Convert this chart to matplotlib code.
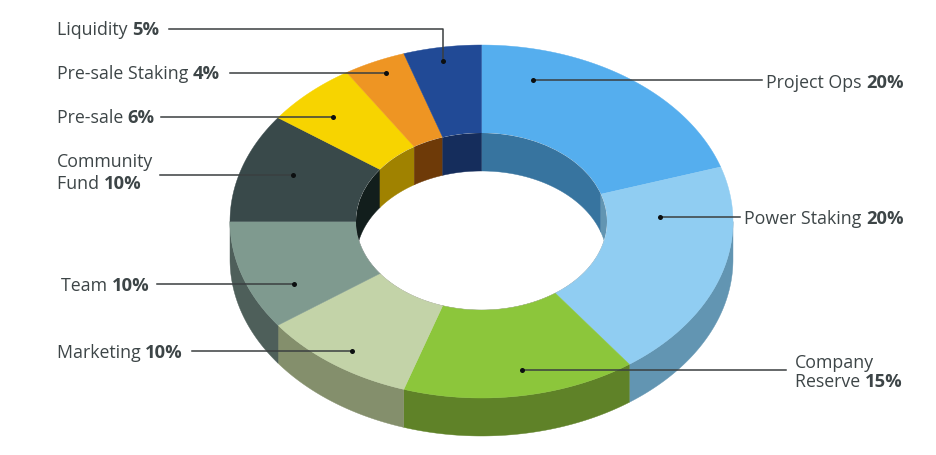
import numpy as np
import matplotlib
matplotlib.use('Agg')
import matplotlib.pyplot as plt
from matplotlib.patches import Polygon, Ellipse

# share of each slice, clockwise from the top
names = ['Project Ops', 'Power Staking', 'Company\nReserve', 'Marketing', 'Team',
         'Community\nFund', 'Pre-sale', 'Pre-sale Staking', 'Liquidity']
shares = [20, 20, 15, 10, 10, 10, 6, 4, 5]

top_colors = ['#55aeee', '#90cdf2', '#8cc63b', '#c3d3a8', '#7f9a8f',
              '#39494a', '#f7d400', '#ee9523', '#214a96']
side_colors = ['#37749f', '#6295b2', '#5f8228', '#848f6c', '#4e5f5a',
               '#121e1c', '#a08200', '#6e3a08', '#152d5c']

# ring geometry in pixels
cx, cy = 481.5, 221.5
rx_out, ry_out = 251.5, 176.5
rx_in, ry_in = 125.5, 88.5
depth = 38

# label layout: text x, y of the last line, line start x, dot x, dot y
label_x = [766, 744, 795, 57, 61, 57, 57, 57, 57]
label_y = [83, 219, 382, 353, 286, 184, 118, 74, 30]
line_x = [762, 740, 786, 192, 157, 160, 161, 230, 169]
dot_x = [533, 660, 522, 352, 294, 293, 333, 386, 443]
dot_y = [80, 217, 370, 351, 284, 175, 117, 73, 61]
line_gap = [0, 0, 19, 0, 0, 22, 0, 0, 0]

plt.rcParams['font.family'] = ['Open Sans', 'DejaVu Sans']
text_color = '#3d4547'
font_size = 12.75
bold_size = 13.2


def arc(a0, a1, rx, ry, shift=0):
    t = np.linspace(a0, a1, 80)
    return np.column_stack([cx + rx * np.sin(t), cy - ry * np.cos(t) + shift])


fig = plt.figure(figsize=(9.36, 4.55), dpi=100)
ax = fig.add_axes([0, 0, 1, 1])
ax.set_xlim(0, 936)
ax.set_ylim(455, 0)
ax.axis('off')

edges = np.cumsum([0] + shares) / sum(shares) * 2 * np.pi

# outer wall, front half only
for i in range(len(shares)):
    a0, a1 = max(edges[i], np.pi / 2), min(edges[i + 1], 3 * np.pi / 2)
    if a1 <= a0:
        continue
    pts = np.vstack([arc(a0, a1, rx_out, ry_out), arc(a1, a0, rx_out, ry_out, depth)])
    ax.add_patch(Polygon(pts, fc=side_colors[i], ec=side_colors[i], lw=0.3, zorder=1))

# top face
for i in range(len(shares)):
    pts = np.vstack([arc(edges[i], edges[i + 1], rx_out, ry_out),
                     arc(edges[i + 1], edges[i], rx_in, ry_in)])
    ax.add_patch(Polygon(pts, fc=top_colors[i], ec=top_colors[i], lw=0.3, zorder=2))

# inner wall seen through the hole
hole = Ellipse((cx, cy), 2 * rx_in, 2 * ry_in, fc='white', ec='none', zorder=3)
ax.add_patch(hole)
for i in range(len(shares)):
    pts = np.vstack([arc(edges[i], edges[i + 1], rx_in, ry_in),
                     arc(edges[i + 1], edges[i], rx_in, ry_in, depth)])
    wall = Polygon(pts, fc=side_colors[i], ec=side_colors[i], lw=0.3, zorder=4)
    ax.add_patch(wall)
    wall.set_clip_path(hole)

# leader lines and labels
renderer = fig.canvas.get_renderer()
for i in range(len(shares)):
    pct = f'{shares[i]}%'
    lines = names[i].split('\n')
    y = label_y[i]
    if len(lines) == 2:
        ax.text(label_x[i], y - line_gap[i], lines[0], fontsize=font_size,
                color=text_color, va='center', ha='left', zorder=6)
    t = ax.text(label_x[i], y, lines[-1] + ' ', fontsize=font_size, color=text_color,
                va='center', ha='left', zorder=6)
    x1 = t.get_window_extent(renderer).x1
    ax.text(x1, y, pct, fontsize=bold_size, color=text_color, fontweight='bold',
            va='center', ha='left', zorder=6)

    if names[i] == 'Liquidity':
        lx = [line_x[i], dot_x[i], dot_x[i]]
        ly = [29, 29, dot_y[i]]
    else:
        lx = [line_x[i], dot_x[i]]
        ly = [dot_y[i], dot_y[i]]
    ax.plot(lx, ly, color='#3a3f40', lw=1.1, zorder=5)
    ax.plot(dot_x[i], dot_y[i], 'o', color='#0c0f10', ms=3.6, mew=0, zorder=5)

fig.savefig('out.png', dpi=100)
